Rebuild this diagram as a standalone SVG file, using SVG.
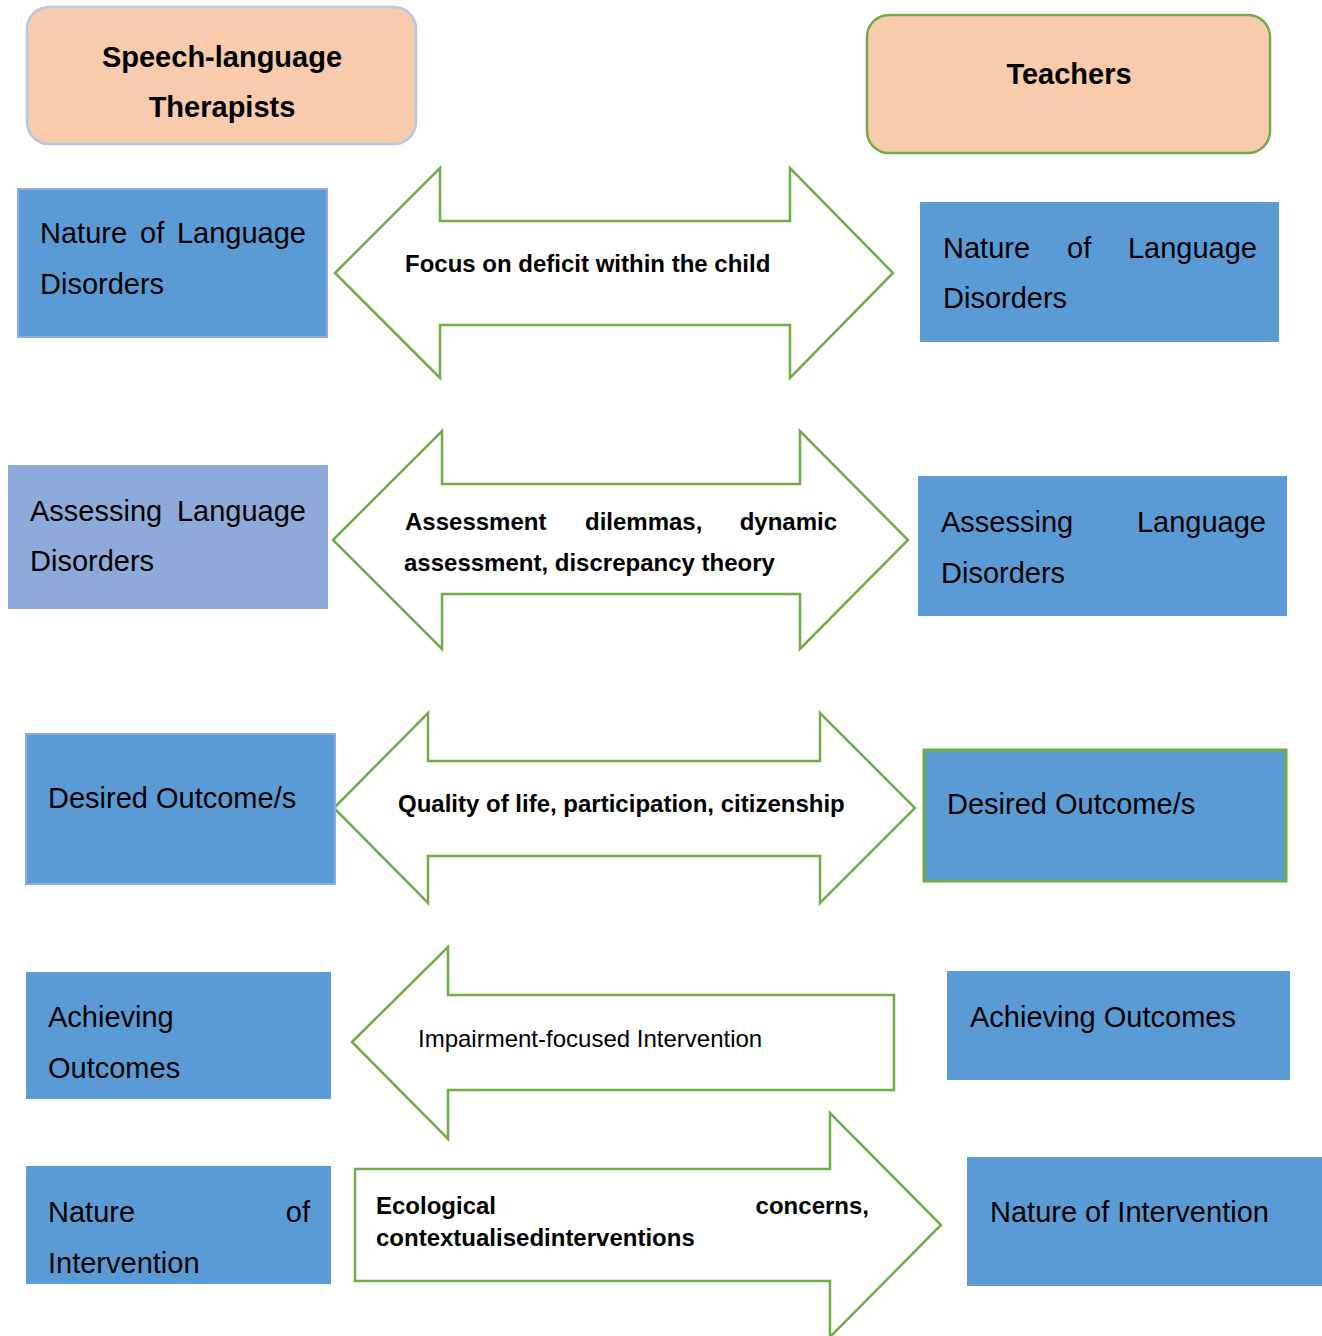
<svg xmlns="http://www.w3.org/2000/svg" width="1322" height="1336" viewBox="0 0 1322 1336">
<style>
.hdr{fill:#F7CBAC;stroke-width:2.5}
.box{fill:#5B9BD5}
.t{font-family:"Liberation Sans",Arial,sans-serif;font-size:29px;fill:#000}
.tb{font-family:"Liberation Sans",Arial,sans-serif;font-size:29px;font-weight:bold;fill:#000}
.at{font-family:"Liberation Sans",Arial,sans-serif;font-size:24px;font-weight:bold;fill:#000}
.ar{font-family:"Liberation Sans",Arial,sans-serif;font-size:24px;fill:#000}
.arrow{fill:#FFFFFF;stroke:#70AD47;stroke-width:2.5}
</style>
<rect width="1322" height="1336" fill="#FFFFFF"/>
<g id="connectors">
<polygon class="arrow" points="335,273 440,168 440,221 790,221 790,168 893,273 790,378 790,325 440,325 440,378"/>
<polygon class="arrow" points="333,540 442,431 442,484 800,484 800,431 908,540 800,649 800,594 442,594 442,649"/>
<polygon class="arrow" points="334,808 428,713 428,761 820,761 820,713 915,808 820,903 820,856 428,856 428,903"/>
<polygon class="arrow" points="352,1042 448,947 448,995 894,995 894,1090 448,1090 448,1139"/>
<polygon class="arrow" points="355,1169 830,1169 830,1113 941,1225 830,1337 830,1281 355,1281"/>
<text class="at" x="405" y="272">Focus on deficit within the child</text>
<text class="at" x="405" y="530">Assessment</text>
<text class="at" x="585" y="530">dilemmas,</text>
<text class="at" x="837" y="530" text-anchor="end">dynamic</text>
<text class="at" x="404" y="571">assessment, discrepancy theory</text>
<text class="at" x="398" y="812">Quality of life, participation, citizenship</text>
<text class="ar" x="418" y="1047">Impairment-focused Intervention</text>
<text class="at" x="376" y="1214">Ecological</text>
<text class="at" x="869" y="1214" text-anchor="end">concerns,</text>
<text class="at" x="376" y="1246">contextualisedinterventions</text>
</g>
<g id="slt-header">
<rect class="hdr" x="27" y="7" width="389" height="137" rx="22" stroke="#B4C7E7"/>
<text class="tb" x="222" y="67" text-anchor="middle">Speech-language</text>
<text class="tb" x="222" y="117" text-anchor="middle">Therapists</text>
</g>
<g id="teachers-header">
<rect class="hdr" x="867" y="15" width="403" height="138" rx="22" stroke="#70AD47"/>
<text class="tb" x="1069" y="84" text-anchor="middle">Teachers</text>
</g>
<g id="l-nature-lang">
<rect class="box" x="18" y="189" width="309" height="148" stroke="#8FAADC" stroke-width="2"/>
<text class="t" x="40" y="243">Nature</text>
<text class="t" x="140" y="243">of</text>
<text class="t" x="306" y="243" text-anchor="end">Language</text>
<text class="t" x="40" y="294">Disorders</text>
</g>
<g id="l-assessing">
<rect x="8" y="465" width="320" height="144" fill="#8EAADB"/>
<text class="t" x="30" y="521">Assessing</text>
<text class="t" x="306" y="521" text-anchor="end">Language</text>
<text class="t" x="30" y="571">Disorders</text>
</g>
<g id="l-desired">
<rect class="box" x="26" y="734" width="309" height="150" stroke="#8FAADC" stroke-width="2"/>
<text class="t" x="48" y="808">Desired Outcome/s</text>
</g>
<g id="l-achieving">
<rect class="box" x="26" y="972" width="305" height="127"/>
<text class="t" x="48" y="1027">Achieving</text>
<text class="t" x="48" y="1078">Outcomes</text>
</g>
<g id="l-intervention">
<rect class="box" x="26" y="1166" width="305" height="118"/>
<text class="t" x="48" y="1222">Nature</text>
<text class="t" x="310" y="1222" text-anchor="end">of</text>
<text class="t" x="48" y="1273">Intervention</text>
</g>
<g id="r-nature-lang">
<rect class="box" x="920" y="202" width="359" height="140"/>
<text class="t" x="943" y="258">Nature</text>
<text class="t" x="1067" y="258">of</text>
<text class="t" x="1257" y="258" text-anchor="end">Language</text>
<text class="t" x="943" y="308">Disorders</text>
</g>
<g id="r-assessing">
<rect class="box" x="918" y="476" width="369" height="140"/>
<text class="t" x="941" y="532">Assessing</text>
<text class="t" x="1266" y="532" text-anchor="end">Language</text>
<text class="t" x="941" y="583">Disorders</text>
</g>
<g id="r-desired">
<rect class="box" x="924" y="750" width="362" height="131" stroke="#70AD47" stroke-width="3"/>
<text class="t" x="947" y="814">Desired Outcome/s</text>
</g>
<g id="r-achieving">
<rect class="box" x="947" y="971" width="343" height="109"/>
<text class="t" x="970" y="1027">Achieving Outcomes</text>
</g>
<g id="r-intervention">
<rect class="box" x="967" y="1157" width="355" height="129"/>
<text class="t" x="990" y="1222">Nature of Intervention</text>
</g>
</svg>
